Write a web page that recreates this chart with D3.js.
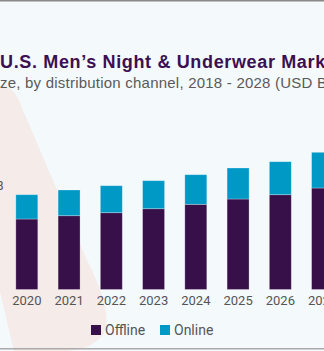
<!DOCTYPE html>
<html>
<head>
<meta charset="utf-8">
<script src="https://cdn.jsdelivr.net/npm/d3@7"></script>
<style>
  body { margin: 0; background: #f4f9fc; }
  svg { display: block; }
</style>
</head>
<body>
<div id="chart"></div>
<script>
var years = ["2020", "2021", "2022", "2023", "2024", "2025", "2026", "2027"];
var offline = [7.05, 7.38, 7.68, 8.08, 8.52, 9.05, 9.48, 10.15];
var online = [2.43, 2.57, 2.70, 2.80, 2.96, 3.10, 3.30, 3.57];
var seriesNames = ["Offline", "Online"];
var colors = ["#37104a", "#0098c5"];

var dim = { width: 324, height: 351 };

var svg = d3.select("#chart").append("svg")
    .attr("width", dim.width)
    .attr("height", dim.height);

svg.append("rect")
    .attr("width", dim.width).attr("height", dim.height)
    .attr("fill", "#f4f9fc");

// pale decorative blob behind the bars
svg.append("path")
    .attr("d", "M0,86 Q14,84 22,108 L86,258 Q116,318 102,336 Q88,352 58,351 L14,351 L0,292 Z")
    .attr("fill", "#f5ebe9");

// frame lines top and bottom
svg.append("rect").attr("x", 0).attr("y", 0).attr("width", dim.width).attr("height", 1.5).attr("fill", "#888");
svg.append("rect").attr("x", 0).attr("y", 348).attr("width", dim.width).attr("height", 1.5).attr("fill", "#aaa");

svg.append("text")
    .attr("x", 0).attr("y", 68)
    .attr("font-family", "'Liberation Sans', Arial, sans-serif")
    .attr("font-weight", "bold")
    .attr("font-size", 18)
    .attr("letter-spacing", 0.65)
    .attr("fill", "#3b1052")
    .text("U.S. Men’s Night & Underwear Market Size");

svg.append("text")
    .attr("x", 0).attr("y", 88)
    .attr("font-family", "'Liberation Sans', Arial, sans-serif")
    .attr("font-size", 15)
    .attr("letter-spacing", 0.22)
    .attr("fill", "#5a5a5a")
    .text("ze, by distribution channel, 2018 - 2028 (USD Billion)");

var x = d3.scaleBand()
    .domain(years)
    .range([5.7, 343.7])
    .paddingInner(0.48)
    .paddingOuter(0.24);

var y = d3.scaleLinear()
    .domain([0, 16])
    .range([289.5, 129.5]);

var stackData = years.map((yr, i) => ({ year: yr, Offline: offline[i], Online: online[i] }));
var stacked = d3.stack().keys(seriesNames)(stackData);

svg.append("g").selectAll("g")
    .data(stacked).enter()
    .append("g")
    .attr("fill", (d, i) => colors[i])
    .selectAll("rect")
    .data(d => d).enter()
    .append("rect")
    .attr("x", d => x(d.data.year))
    .attr("y", d => y(d[1]))
    .attr("width", x.bandwidth())
    .attr("height", d => y(d[0]) - y(d[1]))
    .attr("stroke", "#ffffff")
    .attr("stroke-opacity", 0.35)
    .attr("stroke-width", 0.8);

// partly hidden value label at the left edge
svg.append("text")
    .attr("x", 3.5).attr("y", 190)
    .attr("text-anchor", "end")
    .attr("font-family", "Roboto, sans-serif")
    .attr("font-size", 13)
    .attr("fill", "#555")
    .text("8");

var xAxis = svg.append("g")
    .attr("transform", "translate(0,289.5)")
    .call(d3.axisBottom(x).tickSize(0).tickPadding(6));
xAxis.select(".domain").remove();
xAxis.selectAll("text")
    .attr("font-family", "Roboto, sans-serif")
    .attr("font-size", 13)
    .attr("fill", "#555");

var legend = svg.append("g").attr("transform", "translate(91,325)");
var items = legend.selectAll("g")
    .data(seriesNames).enter()
    .append("g")
    .attr("transform", (d, i) => `translate(${i * 69},0)`);
items.append("rect")
    .attr("width", 10).attr("height", 10)
    .attr("fill", (d, i) => colors[i]);
items.append("text")
    .attr("x", 14).attr("y", 9.5)
    .attr("font-family", "Roboto, sans-serif")
    .attr("font-size", 14)
    .attr("fill", "#555")
    .text(d => d);
</script>
</body>
</html>
